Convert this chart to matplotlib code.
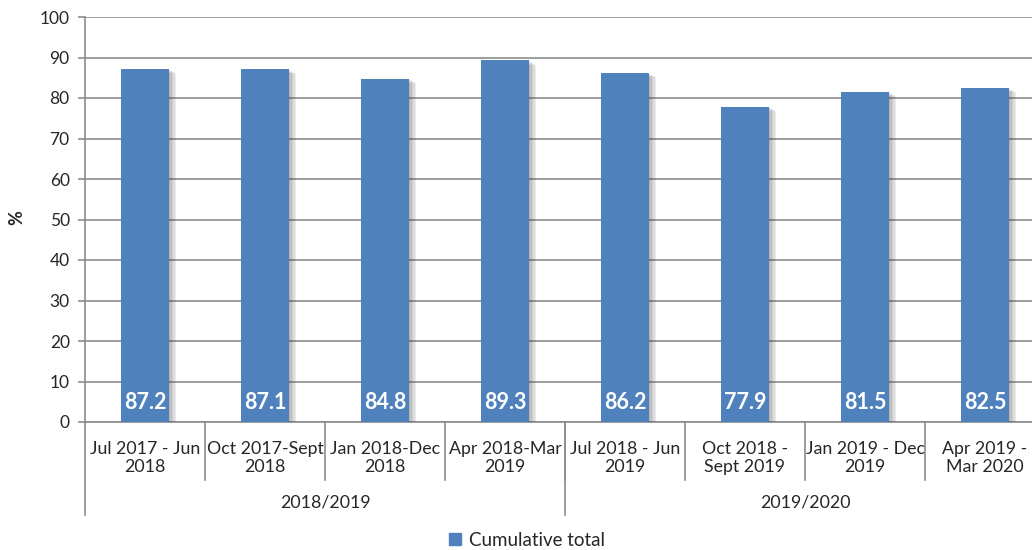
import numpy as np
import matplotlib.pyplot as plt
import matplotlib.patheffects as pe
from matplotlib.patches import Patch
from matplotlib.transforms import blended_transform_factory

plt.rcParams['font.family'] = ['Lato', 'DejaVu Sans']

periods = ['Jul 2017 - Jun\n2018', 'Oct 2017-Sept\n2018', 'Jan 2018-Dec\n2018',
           'Apr 2018-Mar\n2019', 'Jul 2018 - Jun\n2019', 'Oct 2018 -\nSept 2019',
           'Jan 2019 - Dec\n2019', 'Apr 2019 -\nMar 2020']
years = ['2018/2019', '2019/2020']
per_year = [4, 4]
cumulative = [87.2, 87.1, 84.8, 89.3, 86.2, 77.9, 81.5, 82.5]

bar_col = '#4F81BD'
grid_col = '#8c8c8c'
txt_col = '#262626'

fig = plt.figure(figsize=(10.32, 5.5), dpi=100)
ax = fig.add_axes([85 / 1032, 128 / 550, 960 / 1032, 405 / 550])

x = np.arange(len(cumulative))
bars = ax.bar(x, cumulative, width=0.4, color=bar_col, zorder=3)
# soft drop shadow: several faint offset copies
shadow = [pe.SimplePatchShadow(offset=(d, -d * 0.6), shadow_rgbFace='#404040', alpha=0.09)
          for d in (1, 2, 3, 4, 5)]
for b in bars:
    b.set_path_effects(shadow + [pe.Normal()])

# value labels sit at the foot of each bar
for xi, v in zip(x, cumulative):
    ax.text(xi, 4.9, f'{v:.1f}', ha='center', va='center', color='white',
            fontsize=15.5, fontweight='bold', zorder=4)

ax.set_xlim(-0.5, len(cumulative) - 0.5)
ax.set_ylim(0, 100)
ax.set_yticks(np.arange(0, 101, 10))
ax.yaxis.grid(True, color=grid_col, linewidth=1.2, zorder=0)
ax.set_xticks([])
ax.tick_params(axis='y', colors=grid_col, length=5, width=1.2, labelsize=12.5,
               labelcolor=txt_col, pad=6)
for side in ['top', 'right']:
    ax.spines[side].set_visible(False)
for side in ['left', 'bottom']:
    ax.spines[side].set_color(grid_col)
    ax.spines[side].set_linewidth(1.2)

fig.text(17 / 1032, 1 - 218 / 550, '%', rotation=90, ha='center', va='center',
         fontsize=13, fontweight='bold', color=txt_col)

# two-level category axis
tr = blended_transform_factory(ax.transData, ax.transAxes)
for xi, lab in zip(x, periods):
    ax.text(xi, -0.089, lab, transform=tr, ha='center', va='center',
            fontsize=12.8, color=txt_col, linespacing=1.15)
for b in np.arange(0.5, len(cumulative) - 0.5):
    ax.plot([b, b], [0, -0.143], transform=tr, color=grid_col, lw=1.2, clip_on=False)

start = 0
edges = [-0.5]
for yr, n in zip(years, per_year):
    mid = start + (n - 1) / 2
    ax.text(mid, -0.2, yr, transform=tr, ha='center', va='center',
            fontsize=12.8, color=txt_col)
    start += n
    edges.append(start - 0.5)
for e in edges:
    ax.plot([e, e], [0, -0.23], transform=tr, color=grid_col, lw=1.2, clip_on=False)

fig.legend(handles=[Patch(color=bar_col, label='Cumulative total')], loc='center',
           bbox_to_anchor=(527 / 1032, 10 / 550), frameon=False,
           fontsize=13.5, handlelength=0.65, handleheight=0.65, handletextpad=0.4,
           labelcolor=txt_col)

fig.savefig('out.png', dpi=100)
